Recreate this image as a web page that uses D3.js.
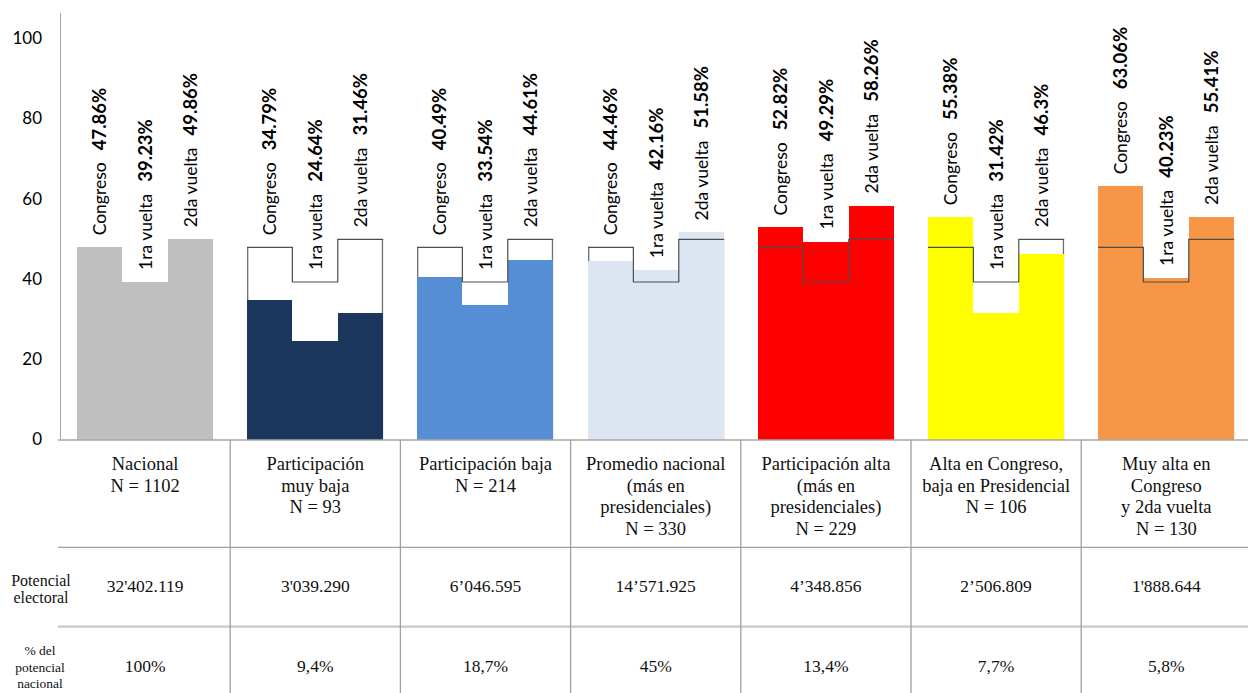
<!DOCTYPE html>
<html>
<head>
<meta charset="utf-8">
<script src="https://cdn.jsdelivr.net/npm/d3@7"></script>
<style>
  html, body { margin: 0; padding: 0; background: #fff; overflow: hidden; }
  svg { display: block; }
</style>
</head>
<body>
<svg id="chart" width="1248" height="693"></svg>
<script>
// ---- DATA ----
const categories = [
  ["Nacional", "N = 1102"],
  ["Participación", "muy baja", "N = 93"],
  ["Participación baja", "N = 214"],
  ["Promedio nacional", "(más en", "presidenciales)", "N = 330"],
  ["Participación alta", "(más en", "presidenciales)", "N = 229"],
  ["Alta en Congreso,", "baja en Presidencial", "N = 106"],
  ["Muy alta en", "Congreso", "y 2da vuelta", "N = 130"]
];
const seriesNames = ["Congreso", "1ra vuelta", "2da vuelta"];
const congreso = [47.86, 34.79, 40.49, 44.46, 52.82, 55.38, 63.06];
const primeraVuelta = [39.23, 24.64, 33.54, 42.16, 49.29, 31.42, 40.23];
const segundaVuelta = [49.86, 31.46, 44.61, 51.58, 58.26, 46.3, 55.41];
const potencialElectoral = ["32'402.119", "3'039.290", "6\u2019046.595", "14\u2019571.925", "4\u2019348.856", "2\u2019506.809", "1'888.644"];
const pctPotencial = ["100%", "9,4%", "18,7%", "45%", "13,4%", "7,7%", "5,8%"];
const rowLabels = [["Potencial", "electoral"], ["% del", "potencial", "nacional"]];
const groupColors = ["#bfbfbf", "#1b375e", "#558ed5", "#dce6f2", "#ff0000", "#ffff00", "#f79646"];
const yTicks = [0, 20, 40, 60, 80, 100];

// ---- LAYOUT ----
const svg = d3.select("#chart");
const plotLeft = 60, plotRight = 1251.4, plotTop = 38, plotBottom = 439.5;
const tableTop = 440, row1Line = 547.3, row2Line = 626.7, tableBottom = 693;

const values = categories.map((c, i) => [congreso[i], primeraVuelta[i], segundaVuelta[i]]);
const national = values[0];

const x = d3.scaleBand().domain(d3.range(categories.length)).range([plotLeft, plotRight])
  .paddingInner(0.2).paddingOuter(0.1);
const xs = d3.scaleBand().domain(seriesNames).range([0, x.bandwidth()]).padding(0);
const y = d3.scaleLinear().domain([0, 100]).range([plotBottom, plotTop]);

const sansFont = "Lato, 'Open Sans', sans-serif";
const serifFont = "'Liberation Serif', 'DejaVu Serif', serif";

// y axis
const yAxis = svg.append("g").attr("transform", `translate(${plotLeft},0)`)
  .call(d3.axisLeft(y).tickValues(yTicks).tickSize(0).tickPadding(18));
yAxis.select(".domain").attr("stroke", "#a6a6a6").attr("d", `M0.5,13V${plotBottom}`);
yAxis.selectAll("text").attr("font-family", sansFont).attr("font-size", 17).attr("fill", "#000");

// outline outer verticals (behind bars)
const groups = svg.append("g").selectAll("g").data(values).join("g")
  .attr("transform", (d, i) => `translate(${Math.round(x(i))},0)`);

groups.filter((d, i) => i > 0).append("path")
  .attr("fill", "none").attr("stroke", "#6e6e6e").attr("stroke-width", 1.3)
  .attr("d", () => `M0.7,${y(national[0])}V${y(0)}M${x.bandwidth() - 0.7},${y(national[2])}V${y(0)}`);

// bars
groups.selectAll("rect").data((d, i) => d.map((v, j) => ({ v, j, i }))).join("rect")
  .attr("shape-rendering", "crispEdges")
  .attr("x", d => Math.round(xs(seriesNames[d.j])))
  .attr("width", d => Math.round(xs(seriesNames[d.j]) + xs.bandwidth()) - Math.round(xs(seriesNames[d.j])))
  .attr("y", d => y(d.v))
  .attr("height", d => y(0) - y(d.v))
  .attr("fill", d => groupColors[d.i]);

// national step outline on top
groups.filter((d, i) => i > 0).append("path")
  .attr("fill", "none").attr("stroke", "#4d4d4d").attr("stroke-width", 1.2)
  .attr("d", () => {
    const p = d3.path();
    seriesNames.forEach((s, j) => {
      const yy = y(national[j]);
      if (j === 0) p.moveTo(xs(s), yy); else p.lineTo(xs(s), yy);
      p.lineTo(xs(s) + xs.bandwidth(), yy);
    });
    return p.toString();
  });

// rotated labels
groups.each(function (d, i) {
  const g = d3.select(this);
  d.forEach((v, j) => {
    const top = Math.max(v, national[j]);
    const cx = xs(seriesNames[j]) + xs.bandwidth() / 2;
    const t = g.append("text")
      .attr("transform", `translate(${cx + 6.5},${y(top) - 12}) rotate(-90)`)
      .attr("font-family", sansFont).attr("font-size", 17.5).attr("fill", "#000");
    t.append("tspan").text(seriesNames[j]);
    t.append("tspan").attr("dx", 12).attr("font-weight", "bold").attr("font-size", 18.5).text(v + "%");
  });
});

// ---- TABLE ----
const grid = svg.append("g");
grid.append("line").attr("x1", 58).attr("x2", 1248).attr("y1", tableTop).attr("y2", tableTop)
  .attr("stroke", "#a6a6a6").attr("stroke-width", 1.3);
grid.append("line").attr("x1", 58).attr("x2", 1248).attr("y1", row1Line).attr("y2", row1Line)
  .attr("stroke", "#a0a0a0").attr("stroke-width", 1.3);
grid.append("line").attr("x1", 58).attr("x2", 1248).attr("y1", row2Line).attr("y2", row2Line)
  .attr("stroke", "#c8c8c8").attr("stroke-width", 2.2);
grid.selectAll("line.v").data(d3.range(1, categories.length)).join("line").attr("class", "v")
  .attr("x1", i => x(i) - x.step() * x.paddingInner() / 2)
  .attr("x2", i => x(i) - x.step() * x.paddingInner() / 2)
  .attr("y1", tableTop).attr("y2", tableBottom)
  .attr("stroke", "#a0a0a0").attr("stroke-width", 1.3);

const ccx = i => x(i) + x.bandwidth() / 2;

// category labels
svg.append("g").selectAll("text").data(categories).join("text")
  .attr("x", (d, i) => ccx(i)).attr("y", 470)
  .attr("text-anchor", "middle").attr("font-family", serifFont).attr("font-size", 18.5).attr("fill", "#111")
  .each(function (lines) {
    const el = d3.select(this);
    el.selectAll("tspan").data(lines).join("tspan")
      .attr("x", el.attr("x")).attr("dy", (l, k) => k === 0 ? 0 : 21.7).text(l => l);
  });

// potencial row
svg.append("g").selectAll("text").data(potencialElectoral).join("text")
  .attr("x", (d, i) => ccx(i)).attr("y", 591.5)
  .attr("text-anchor", "middle").attr("font-family", serifFont).attr("font-size", 17.5).attr("fill", "#111")
  .text(d => d);

// percentage row
svg.append("g").selectAll("text").data(pctPotencial).join("text")
  .attr("x", (d, i) => ccx(i)).attr("y", 672)
  .attr("text-anchor", "middle").attr("font-family", serifFont).attr("font-size", 17.5).attr("fill", "#111")
  .text(d => d);

// row labels
const rl = svg.append("g");
rl.append("text").attr("x", 41).attr("y", 585.5).attr("text-anchor", "middle")
  .attr("font-family", serifFont).attr("font-size", 16).attr("fill", "#111")
  .selectAll("tspan").data(rowLabels[0]).join("tspan")
  .attr("x", 41).attr("dy", (l, k) => k === 0 ? 0 : 17).text(l => l);
rl.append("text").attr("x", 40).attr("y", 655).attr("text-anchor", "middle")
  .attr("font-family", serifFont).attr("font-size", 13.5).attr("fill", "#111")
  .selectAll("tspan").data(rowLabels[1]).join("tspan")
  .attr("x", 40).attr("dy", (l, k) => k === 0 ? 0 : 16.5).text(l => l);
</script>
</body>
</html>
